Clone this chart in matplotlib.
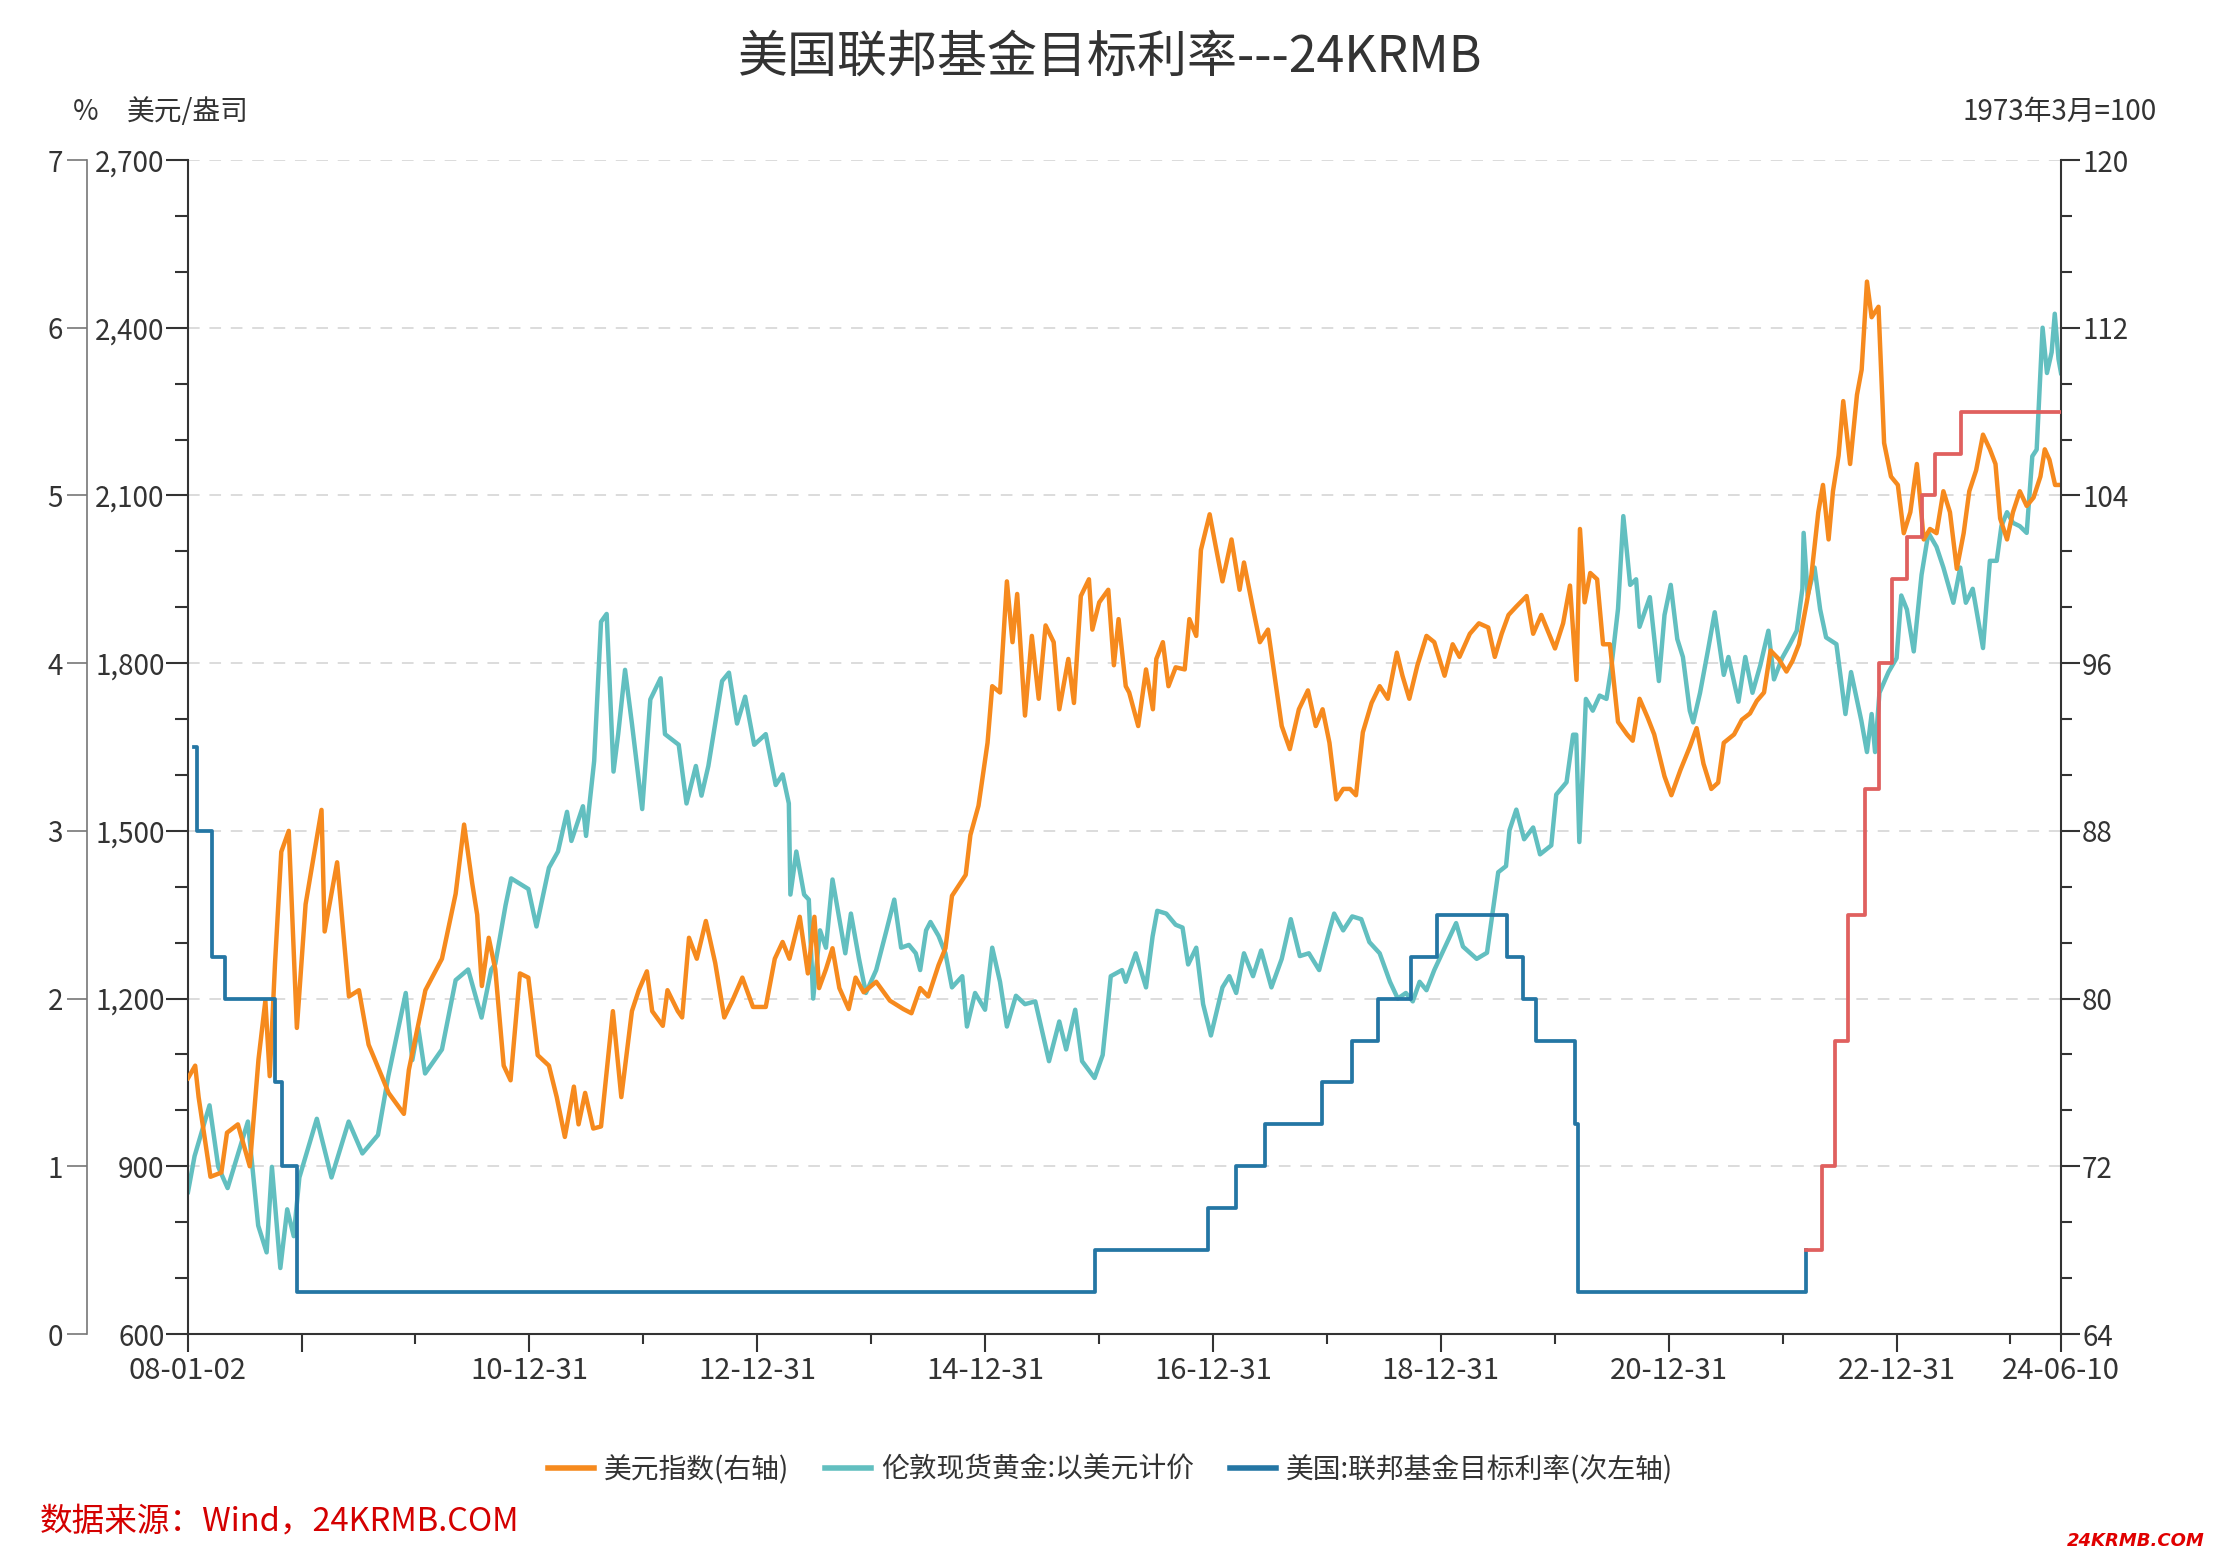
import matplotlib
matplotlib.use("Agg")
import matplotlib.pyplot as plt
import matplotlib.dates as mdates
import pandas as pd
from matplotlib.ticker import FixedLocator, FixedFormatter, MultipleLocator, AutoMinorLocator, FuncFormatter
from matplotlib.lines import Line2D

plt.rcParams["font.family"] = ["Noto Sans CJK SC", "DejaVu Sans"]
plt.rcParams["axes.unicode_minus"] = False

# 伦敦现货黄金 (美元/盎司)
gold_dates = [
    "2008-01-02", "2008-01-23", "2008-03-11", "2008-04-08", "2008-05-08", "2008-07-12", "2008-08-14",
    "2008-09-10", "2008-09-27", "2008-10-24", "2008-11-15", "2008-12-06", "2008-12-24", "2009-02-18",
    "2009-04-06", "2009-05-31", "2009-07-14", "2009-09-02", "2009-10-05", "2009-11-30", "2009-12-21",
    "2010-01-09", "2010-01-31", "2010-03-26", "2010-05-09", "2010-06-18", "2010-07-31", "2010-08-31",
    "2010-09-13", "2010-10-16", "2010-11-03", "2010-12-02", "2010-12-28", "2011-01-23", "2011-03-04",
    "2011-04-02", "2011-05-01", "2011-05-15", "2011-06-21", "2011-07-01", "2011-07-27", "2011-08-18",
    "2011-09-05", "2011-09-27", "2011-10-12", "2011-11-03", "2011-11-25", "2011-12-28", "2012-01-23",
    "2012-02-25", "2012-03-10", "2012-04-23", "2012-05-18", "2012-06-17", "2012-07-05", "2012-07-27",
    "2012-09-09", "2012-10-01", "2012-10-27", "2012-11-22", "2012-12-21", "2013-01-27", "2013-02-28",
    "2013-03-22", "2013-04-11", "2013-04-16", "2013-05-05", "2013-05-30", "2013-06-14", "2013-06-28",
    "2013-07-20", "2013-08-08", "2013-08-29", "2013-09-20", "2013-10-09", "2013-10-27", "2013-11-22",
    "2013-12-14", "2014-01-16", "2014-02-18", "2014-03-15", "2014-04-06", "2014-05-01", "2014-05-23",
    "2014-06-06", "2014-06-25", "2014-07-09", "2014-08-04", "2014-08-26", "2014-09-16", "2014-10-19",
    "2014-11-03", "2014-11-29", "2014-12-31", "2015-01-23", "2015-02-17", "2015-03-11", "2015-04-09",
    "2015-05-08", "2015-06-10", "2015-07-24", "2015-08-26", "2015-09-17", "2015-10-16", "2015-11-07",
    "2015-12-17", "2016-01-12", "2016-02-07", "2016-03-14", "2016-03-26", "2016-04-27", "2016-05-30",
    "2016-06-20", "2016-07-05", "2016-08-03", "2016-09-02", "2016-09-24", "2016-10-12", "2016-11-07",
    "2016-11-29", "2016-12-24", "2017-01-30", "2017-02-21", "2017-03-15", "2017-04-09", "2017-05-08",
    "2017-06-03", "2017-07-06", "2017-08-08", "2017-09-06", "2017-10-05", "2017-11-03", "2017-12-06",
    "2018-01-08", "2018-01-23", "2018-02-21", "2018-03-22", "2018-04-20", "2018-05-16", "2018-06-18",
    "2018-07-21", "2018-08-15", "2018-09-10", "2018-10-02", "2018-10-24", "2018-11-15", "2018-12-10",
    "2019-01-09", "2019-02-18", "2019-03-12", "2019-04-25", "2019-05-28", "2019-06-22", "2019-07-03",
    "2019-07-28", "2019-08-08", "2019-08-30", "2019-09-24", "2019-10-23", "2019-11-14", "2019-12-20",
    "2020-01-05", "2020-02-07", "2020-02-28", "2020-03-09", "2020-03-19", "2020-04-01", "2020-04-09",
    "2020-05-01", "2020-05-23", "2020-06-14", "2020-06-29", "2020-07-21", "2020-08-07", "2020-08-29",
    "2020-09-17", "2020-09-28", "2020-10-31", "2020-11-29", "2020-12-17", "2021-01-06", "2021-01-27",
    "2021-02-14", "2021-03-08", "2021-03-19", "2021-04-10", "2021-05-05", "2021-05-27", "2021-06-25",
    "2021-07-10", "2021-08-11", "2021-09-02", "2021-09-25", "2021-10-20", "2021-11-15", "2021-12-03",
    "2021-12-29", "2022-01-23", "2022-02-14", "2022-03-04", "2022-03-08", "2022-03-21", "2022-04-12",
    "2022-04-30", "2022-05-19", "2022-06-21", "2022-07-20", "2022-08-07", "2022-09-09", "2022-09-27",
    "2022-10-12", "2022-10-23", "2022-11-06", "2022-12-05", "2022-12-31", "2023-01-15", "2023-02-02",
    "2023-02-24", "2023-03-21", "2023-04-12", "2023-05-08", "2023-05-30", "2023-07-01", "2023-07-23",
    "2023-08-10", "2023-09-01", "2023-10-04", "2023-10-26", "2023-11-17", "2023-12-02", "2023-12-20",
    "2024-01-08", "2024-01-30", "2024-02-21", "2024-03-10", "2024-03-24", "2024-04-12", "2024-04-26",
    "2024-05-11", "2024-05-21", "2024-06-02", "2024-06-10",
]
gold_values = [
    854, 918, 1009, 899, 861, 980, 794,
    746, 899, 718, 823, 775, 880, 985,
    880, 980, 923, 956, 1061, 1210, 1090,
    1148, 1066, 1109, 1233, 1252, 1166, 1252,
    1262, 1367, 1415, 1405, 1396, 1329, 1434,
    1463, 1534, 1482, 1544, 1491, 1625, 1874,
    1888, 1606, 1673, 1788, 1692, 1539, 1735,
    1773, 1673, 1654, 1549, 1616, 1563, 1616,
    1768, 1783, 1692, 1740, 1654, 1673, 1582,
    1601, 1549, 1386, 1463, 1386, 1377, 1200,
    1322, 1291, 1413, 1342, 1281, 1352, 1271,
    1210, 1251, 1322, 1377, 1291, 1296, 1281,
    1251, 1322, 1337, 1312, 1281, 1220, 1240,
    1150, 1210, 1180, 1291, 1230, 1150, 1205,
    1190, 1195, 1088, 1159, 1109, 1180, 1088,
    1058, 1099, 1240, 1251, 1230, 1281, 1220,
    1311, 1357, 1352, 1332, 1327, 1261, 1291,
    1190, 1134, 1220, 1240, 1210, 1281, 1240,
    1286, 1220, 1271, 1342, 1276, 1281, 1251,
    1322, 1352, 1322, 1347, 1342, 1301, 1281,
    1230, 1200, 1210, 1195, 1230, 1215, 1251,
    1287, 1335, 1293, 1271, 1282, 1383, 1426,
    1437, 1501, 1538, 1485, 1506, 1458, 1474,
    1565, 1587, 1672, 1672, 1480, 1629, 1736,
    1715, 1742, 1736, 1790, 1897, 2063, 1940,
    1950, 1865, 1918, 1768, 1886, 1940, 1843,
    1811, 1715, 1694, 1747, 1822, 1891, 1779,
    1811, 1731, 1811, 1747, 1796, 1858, 1771,
    1809, 1834, 1858, 1933, 2033, 1921, 1971,
    1896, 1846, 1834, 1709, 1784, 1697, 1641,
    1709, 1641, 1747, 1784, 1809, 1921, 1896,
    1821, 1958, 2033, 2008, 1971, 1908, 1971,
    1908, 1933, 1827, 1983, 1983, 2045, 2070,
    2051, 2045, 2033, 2170, 2182, 2400, 2319,
    2356, 2425, 2344, 2319,
]

# 美元指数 (1973年3月=100)
dxy_dates = [
    "2008-01-02", "2008-01-25", "2008-02-05", "2008-03-14", "2008-04-18", "2008-05-06", "2008-06-10",
    "2008-07-18", "2008-08-15", "2008-09-06", "2008-09-20", "2008-10-07", "2008-10-27", "2008-11-20",
    "2008-12-16", "2009-01-13", "2009-03-05", "2009-03-15", "2009-04-24", "2009-06-01", "2009-07-03",
    "2009-08-03", "2009-09-14", "2009-10-06", "2009-11-24", "2009-12-10", "2010-02-01", "2010-03-26",
    "2010-05-09", "2010-06-05", "2010-07-01", "2010-07-17", "2010-08-01", "2010-08-23", "2010-09-13",
    "2010-10-10", "2010-11-01", "2010-12-01", "2010-12-28", "2011-01-27", "2011-03-04", "2011-03-29",
    "2011-04-24", "2011-05-23", "2011-06-07", "2011-06-28", "2011-07-24", "2011-08-18", "2011-09-09",
    "2011-09-25", "2011-10-22", "2011-11-25", "2011-12-17", "2012-01-12", "2012-01-29", "2012-03-03",
    "2012-03-18", "2012-04-20", "2012-05-04", "2012-05-26", "2012-06-20", "2012-07-19", "2012-08-18",
    "2012-09-16", "2012-10-12", "2012-11-13", "2012-12-17", "2013-01-27", "2013-02-25", "2013-03-22",
    "2013-04-13", "2013-05-16", "2013-06-11", "2013-07-02", "2013-07-17", "2013-08-08", "2013-08-29",
    "2013-09-20", "2013-10-20", "2013-11-11", "2013-12-07", "2014-01-16", "2014-03-01", "2014-04-13",
    "2014-05-09", "2014-06-06", "2014-07-02", "2014-08-04", "2014-08-26", "2014-09-16", "2014-10-08",
    "2014-10-30", "2014-11-14", "2014-12-10", "2015-01-08", "2015-01-23", "2015-02-17", "2015-03-11",
    "2015-03-29", "2015-04-13", "2015-05-08", "2015-05-30", "2015-06-21", "2015-07-13", "2015-08-08",
    "2015-08-26", "2015-09-24", "2015-10-12", "2015-11-03", "2015-11-29", "2015-12-10", "2016-01-01",
    "2016-01-30", "2016-02-17", "2016-03-03", "2016-03-26", "2016-04-06", "2016-05-05", "2016-05-30",
    "2016-06-21", "2016-07-02", "2016-07-23", "2016-08-10", "2016-09-02", "2016-10-01", "2016-10-16",
    "2016-11-07", "2016-11-22", "2016-12-20", "2017-01-08", "2017-01-30", "2017-02-28", "2017-03-26",
    "2017-04-09", "2017-05-08", "2017-05-30", "2017-06-25", "2017-07-16", "2017-08-08", "2017-09-03",
    "2017-10-02", "2017-10-31", "2017-11-25", "2017-12-17", "2018-01-08", "2018-01-30", "2018-02-21",
    "2018-03-15", "2018-04-03", "2018-04-25", "2018-05-23", "2018-06-18", "2018-07-14", "2018-08-12",
    "2018-08-30", "2018-09-21", "2018-10-17", "2018-11-15", "2018-12-10", "2019-01-12", "2019-02-07",
    "2019-03-01", "2019-04-03", "2019-05-02", "2019-06-01", "2019-06-22", "2019-07-14", "2019-08-05",
    "2019-08-30", "2019-10-02", "2019-10-23", "2019-11-18", "2020-01-01", "2020-01-27", "2020-02-18",
    "2020-03-10", "2020-03-21", "2020-04-05", "2020-04-23", "2020-05-15", "2020-06-03", "2020-06-25",
    "2020-07-21", "2020-08-19", "2020-09-06", "2020-09-28", "2020-10-24", "2020-11-14", "2020-12-17",
    "2021-01-08", "2021-02-06", "2021-03-08", "2021-03-30", "2021-04-21", "2021-05-16", "2021-06-07",
    "2021-06-25", "2021-07-28", "2021-08-22", "2021-09-17", "2021-10-09", "2021-11-01", "2021-11-22",
    "2021-12-18", "2022-01-12", "2022-01-31", "2022-02-21", "2022-03-18", "2022-04-02", "2022-04-24",
    "2022-05-09", "2022-05-27", "2022-06-10", "2022-06-28", "2022-07-13", "2022-08-04", "2022-08-26",
    "2022-09-10", "2022-09-27", "2022-10-12", "2022-11-03", "2022-11-21", "2022-12-13", "2023-01-04",
    "2023-01-23", "2023-02-13", "2023-03-06", "2023-03-28", "2023-04-17", "2023-05-08", "2023-05-30",
    "2023-06-20", "2023-07-12", "2023-08-03", "2023-08-21", "2023-09-12", "2023-10-04", "2023-10-26",
    "2023-11-13", "2023-11-28", "2023-12-20", "2024-01-08", "2024-01-30", "2024-02-21", "2024-03-14",
    "2024-04-05", "2024-04-19", "2024-05-04", "2024-05-22", "2024-06-10",
]
dxy_values = [
    76.2, 76.8, 75.3, 71.5, 71.7, 73.6, 74.0,
    72.0, 77.1, 79.9, 76.3, 81.7, 87.0, 88.0,
    78.6, 84.5, 89.0, 83.2, 86.5, 80.1, 80.4,
    77.8, 76.3, 75.5, 74.5, 76.6, 80.4, 81.9,
    85.0, 88.3, 85.5, 84.0, 80.6, 82.9, 81.4,
    76.8, 76.1, 81.2, 81.0, 77.3, 76.8, 75.3,
    73.4, 75.8, 74.0, 75.5, 73.8, 73.9, 77.1,
    79.4, 75.3, 79.4, 80.4, 81.3, 79.4, 78.7,
    80.4, 79.4, 79.1, 82.9, 81.9, 83.7, 81.7,
    79.1, 79.9, 81.0, 79.6, 79.6, 81.9, 82.7,
    81.9, 83.9, 81.2, 83.9, 80.5, 81.4, 82.4,
    80.5, 79.5, 81.0, 80.3, 80.8, 79.9, 79.5,
    79.3, 80.5, 80.1, 81.6, 82.4, 84.9, 85.4,
    85.9, 87.8, 89.2, 92.2, 94.9, 94.6, 99.9,
    97.0, 99.3, 93.5, 97.3, 94.3, 97.8, 97.0,
    93.8, 96.2, 94.1, 99.2, 100.0, 97.6, 98.9,
    99.5, 95.9, 98.1, 94.9, 94.6, 93.0, 95.7,
    93.8, 96.2, 97.0, 94.9, 95.8, 95.7, 98.1,
    97.3, 101.4, 103.1, 101.6, 99.9, 101.9, 99.5,
    100.8, 98.6, 97.0, 97.6, 95.4, 93.0, 91.9,
    93.8, 94.7, 93.0, 93.8, 92.2, 89.5, 90.0,
    90.0, 89.7, 92.7, 94.1, 94.9, 94.3, 96.5,
    95.4, 94.3, 95.9, 97.3, 97.0, 95.4, 96.9,
    96.3, 97.4, 97.9, 97.7, 96.3, 97.4, 98.3,
    98.7, 99.2, 97.4, 98.3, 96.7, 97.9, 99.7,
    95.2, 102.4, 98.9, 100.3, 100.0, 96.9, 96.9,
    93.2, 92.6, 92.3, 94.3, 93.4, 92.6, 90.6,
    89.7, 90.9, 92.0, 92.9, 91.2, 90.0, 90.3,
    92.2, 92.6, 93.3, 93.6, 94.2, 94.6, 96.6,
    96.2, 95.6, 96.1, 96.9, 98.9, 100.2, 103.2,
    104.5, 101.9, 104.2, 105.9, 108.5, 105.5, 108.8,
    110.0, 114.2, 112.5, 113.0, 106.5, 104.9, 104.5,
    102.2, 103.2, 105.5, 101.9, 102.4, 102.2, 104.2,
    103.2, 100.5, 102.2, 104.2, 105.2, 106.9, 106.2,
    105.5, 102.9, 101.9, 103.2, 104.2, 103.5, 103.9,
    104.9, 106.2, 105.7, 104.5, 104.5,
]

# 美国:联邦基金目标利率 (%)
rate_dates = [
    "2008-01-22", "2008-01-30", "2008-03-18", "2008-04-30", "2008-10-08", "2008-10-29", "2008-12-16",
    "2015-12-17", "2016-12-15", "2017-03-16", "2017-06-15", "2017-12-14", "2018-03-22", "2018-06-14",
    "2018-09-27", "2018-12-20", "2019-08-01", "2019-09-19", "2019-10-31", "2020-03-04", "2020-03-16",
    "2022-03-17", "2022-05-05", "2022-06-16", "2022-07-28", "2022-09-22", "2022-11-03", "2022-12-15",
    "2023-02-02", "2023-03-23", "2023-05-04", "2023-07-27", "2024-06-10",
]
rate_values = [
    3.5, 3.0, 2.25, 2.0, 1.5, 1.0, 0.25,
    0.5, 0.75, 1.0, 1.25, 1.5, 1.75, 2.0,
    2.25, 2.5, 2.25, 2.0, 1.75, 1.25, 0.25,
    0.5, 1.0, 1.75, 2.5, 3.25, 4.0, 4.5,
    4.75, 5.0, 5.25, 5.5, 5.5,
]
hike_start = "2022-03-17"

x_major = ["2008-01-02", "2008-12-31", "2010-12-31", "2012-12-31", "2014-12-31",
           "2016-12-31", "2018-12-31", "2020-12-31", "2022-12-31", "2024-06-10"]
x_major_labels = ["08-01-02", "", "10-12-31", "12-12-31", "14-12-31",
                  "16-12-31", "18-12-31", "20-12-31", "22-12-31", "24-06-10"]
x_minor = ["2009-12-31", "2011-12-31", "2013-12-31", "2015-12-31",
           "2017-12-31", "2019-12-31", "2021-12-31", "2023-12-31"]

GOLD_C = "#62bfc0"
DXY_C = "#f68a1e"
RATE_C = "#2476a4"
HIKE_C = "#e0605f"
TXT_C = "#333333"

W, H = 2221, 1568
fig = plt.figure(figsize=(W / 100, H / 100), dpi=100)
ax = fig.add_axes([188 / W, 1 - 1334 / H, (2061 - 188) / W, (1334 - 160) / H])
ax_r = ax.twinx()
ax_rate = ax.twinx()

gd = pd.to_datetime(gold_dates)
dd = pd.to_datetime(dxy_dates)
rd = pd.to_datetime(rate_dates)
split = rate_dates.index(hike_start)

ax.plot(gd, gold_values, color=GOLD_C, lw=3.2, solid_joinstyle="round")
ax_r.plot(dd, dxy_values, color=DXY_C, lw=3.2, solid_joinstyle="round")
ax_rate.step(rd[:split + 1], rate_values[:split + 1], where="post", color=RATE_C, lw=2.7)
ax_rate.step(rd[split:], rate_values[split:], where="post", color=HIKE_C, lw=2.7)

# x axis
ax.set_xlim(pd.Timestamp(x_major[0]), pd.Timestamp(x_major[-1]))
ax.xaxis.set_major_locator(FixedLocator(mdates.date2num(pd.to_datetime(x_major))))
ax.xaxis.set_major_formatter(FixedFormatter(x_major_labels))
ax.xaxis.set_minor_locator(FixedLocator(mdates.date2num(pd.to_datetime(x_minor))))
ax.tick_params(axis="x", which="major", length=13, width=1.5, color=TXT_C,
               labelsize=21, labelcolor=TXT_C, pad=3)
ax.tick_params(axis="x", which="minor", length=7.2, width=1.5, color=TXT_C)

# gold axis (inner left)
ax.set_ylim(600, 2700)
ax.yaxis.set_major_locator(MultipleLocator(300))
ax.yaxis.set_minor_locator(MultipleLocator(100))
ax.yaxis.set_major_formatter(FuncFormatter(lambda v, p: f"{v:,.0f}"))
ax.tick_params(axis="y", which="major", length=15.8, width=1.5, color=TXT_C,
               labelsize=20, labelcolor=TXT_C, pad=1)
ax.tick_params(axis="y", which="minor", length=9.4, width=1.5, color=TXT_C)
ax.grid(axis="y", which="major", color="#dcdcdc", lw=1.4, ls=(0, (6, 5)))
ax.set_axisbelow(True)

# dollar index axis (right)
ax_r.set_ylim(64, 120)
ax_r.yaxis.set_major_locator(MultipleLocator(8))
ax_r.yaxis.set_minor_locator(AutoMinorLocator(3))
ax_r.tick_params(axis="y", which="major", length=13.7, width=1.5, color=TXT_C,
                 labelsize=20, labelcolor=TXT_C, pad=1.5)
ax_r.tick_params(axis="y", which="minor", length=8, width=1.5, color=TXT_C)

# rate axis (outer left)
ax_rate.set_ylim(0, 7)
ax_rate.yaxis.set_major_locator(MultipleLocator(1))
ax_rate.yaxis.tick_left()
ax_rate.spines["left"].set_position(("axes", -101 / 1873))
ax_rate.tick_params(axis="y", which="major", length=14.4, width=1.2, color="#777777",
                    labelsize=20, labelcolor=TXT_C, pad=3)

for s in ["top", "right"]:
    ax.spines[s].set_visible(False)
for s in ["top", "left", "bottom"]:
    ax_r.spines[s].set_visible(False)
for s in ["top", "right", "bottom"]:
    ax_rate.spines[s].set_visible(False)
for a in (ax, ax_r):
    for s in a.spines.values():
        s.set_color(TXT_C)
        s.set_linewidth(1.5)
ax_rate.spines["left"].set_color("#777777")
ax_rate.spines["left"].set_linewidth(1.2)

# texts
fig.text(0.5, 1 - 58 / H, "美国联邦基金目标利率---24KRMB", ha="center", va="center",
         fontsize=36, color=TXT_C)
fig.text(86 / W, 1 - 112 / H, "%", ha="center", va="center", fontsize=20, color=TXT_C)
fig.text(188 / W, 1 - 112 / H, "美元/盎司", ha="center", va="center", fontsize=20, color=TXT_C)
fig.text(2060 / W, 1 - 112 / H, "1973年3月=100", ha="center", va="center", fontsize=20, color=TXT_C)

handles = [Line2D([0], [0], color=DXY_C, lw=4),
           Line2D([0], [0], color=GOLD_C, lw=4),
           Line2D([0], [0], color=RATE_C, lw=4)]
labels = ["美元指数(右轴)", "伦敦现货黄金:以美元计价", "美国:联邦基金目标利率(次左轴)"]
fig.legend(handles, labels, loc="center", bbox_to_anchor=(0.5, 1 - 1470 / H), ncol=3,
           frameon=False, fontsize=20, handlelength=1.65, handletextpad=0.36,
           columnspacing=1.3, labelcolor=TXT_C)

fig.text(40 / W, 1 - 1521 / H, "数据来源：Wind，24KRMB.COM", ha="left", va="center",
         fontsize=23.5, color="#d40000")
fig.text(2205 / W, 1 - 1541 / H, "24KRMB.COM", ha="right", va="center", fontsize=13,
         color="#e00000", fontweight="bold", style="italic", family="DejaVu Sans")

fig.savefig("out.png", dpi=100)
